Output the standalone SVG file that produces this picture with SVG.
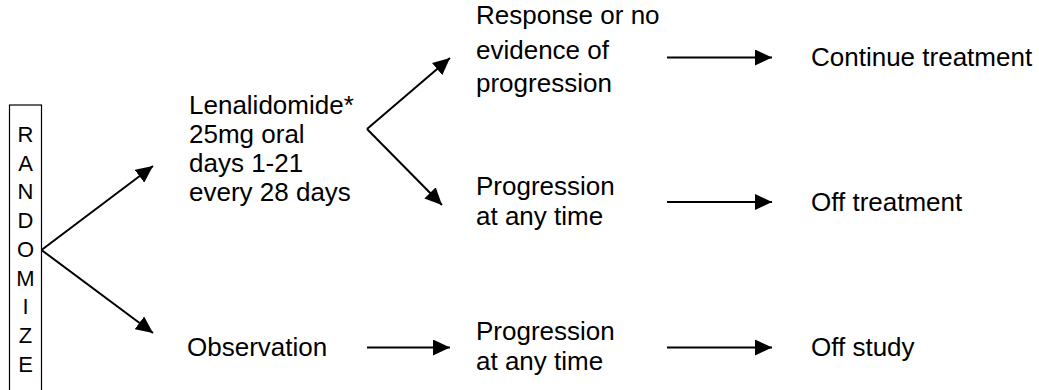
<svg xmlns="http://www.w3.org/2000/svg" width="1039" height="390" viewBox="0 0 1039 390">
<defs>
<marker id="ah" markerWidth="17" markerHeight="16" refX="17" refY="8" orient="auto" markerUnits="userSpaceOnUse">
<path d="M0,0 L17,8 L0,16 Z" fill="#000"/>
</marker>
<style>
text { font-family: "Liberation Sans", Arial, sans-serif; font-size: 26px; fill: #000; }
.v { font-size: 22px; text-anchor: middle; }
.c { stroke: #000; stroke-width: 2; fill: none; marker-end: url(#ah); }
</style>
</defs>
<rect width="1039" height="390" fill="#fff"/>
<g id="randomize">
<rect x="9.5" y="105" width="32" height="300" fill="none" stroke="#000" stroke-width="1.2"/>
<text class="v" x="25.5" y="142">R</text>
<text class="v" x="25.5" y="170.7">A</text>
<text class="v" x="25.5" y="199.4">N</text>
<text class="v" x="25.5" y="228.1">D</text>
<text class="v" x="25.5" y="256.8">O</text>
<text class="v" x="25.5" y="285.5">M</text>
<text class="v" x="25.5" y="314.2">I</text>
<text class="v" x="25.5" y="342.9">Z</text>
<text class="v" x="25.5" y="371.6">E</text>
</g>
<g id="lenalidomide">
<text x="189" y="114">Lenalidomide*</text>
<text x="189" y="143">25mg oral</text>
<text x="189" y="172">days 1-21</text>
<text x="189" y="201">every 28 days</text>
</g>
<g id="observation">
<text x="187" y="356">Observation</text>
</g>
<g id="response">
<text x="476" y="24">Response or no</text>
<text x="476" y="59">evidence of</text>
<text x="476" y="92">progression</text>
</g>
<g id="progression1">
<text x="476" y="195">Progression</text>
<text x="476" y="225">at any time</text>
</g>
<g id="progression2">
<text x="476" y="340">Progression</text>
<text x="476" y="370">at any time</text>
</g>
<g id="continue">
<text x="811" y="66">Continue treatment</text>
</g>
<g id="offtreatment">
<text x="811" y="211">Off treatment</text>
</g>
<g id="offstudy">
<text x="811" y="356">Off study</text>
</g>
<g id="connectors">
<line class="c" x1="41.5" y1="250" x2="153" y2="166"/>
<line class="c" x1="41.5" y1="250" x2="153" y2="333"/>
<line class="c" x1="367" y1="129" x2="450" y2="58"/>
<line class="c" x1="367" y1="129" x2="442" y2="205"/>
<line class="c" x1="667" y1="57.5" x2="772" y2="57.5"/>
<line class="c" x1="667" y1="202" x2="772" y2="202"/>
<line class="c" x1="367" y1="347.5" x2="450" y2="347.5"/>
<line class="c" x1="667" y1="347.5" x2="772" y2="347.5"/>
</g>
</svg>
